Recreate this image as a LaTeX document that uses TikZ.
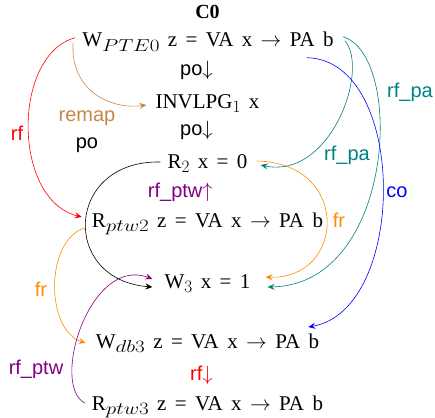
\documentclass[tikz,border=0pt]{standalone}
\usepackage{fontspec}
\usepackage{graphicx}
\setmainfont{Liberation Serif}
\setsansfont{Liberation Sans}
\usetikzlibrary{arrows.meta,calc}
\definecolor{remapc}{RGB}{200,135,70}
\definecolor{tealc}{RGB}{0,128,128}
\definecolor{orangec}{RGB}{255,140,0}
\definecolor{purplec}{RGB}{128,0,128}
\newcommand{\evfont}{\fontsize{21}{24}\selectfont\spaceskip=0.4em\relax}
\newcommand{\lblfont}{\sffamily\fontsize{20}{24}\selectfont}
\newcommand{\sbd}[1]{\raisebox{-4.5pt}{\fontsize{17}{17}\selectfont$#1$}}
\newcommand{\sbw}[1]{\raisebox{-4.5pt}{\scalebox{1.22}[1]{\fontsize{17}{17}\selectfont$#1$}}}
\begin{document}
\begin{tikzpicture}[x=1pt,y=-1pt,
  ev/.style={inner sep=0pt, anchor=base, font=\evfont},
  lbl/.style={inner sep=0pt, font=\lblfont},
  arr/.style={-{Stealth[length=7pt,width=6pt,inset=2.5pt]}, line width=0.6pt}]
\useasboundingbox (0,0) rectangle (435,417);
% events
\node[ev, font=\fontsize{20}{24}\selectfont\bfseries] (c0) at (207.5,18.5) {C0};
\node[ev] (wpte) at (208,46.7) {W\sbw{PTE0} z = VA x $\rightarrow$ PA b};
\node[ev] (inv) at (207.5,108) {INVLPG\sbd{1}\hspace{0.4em}x};
\node[ev] (r2) at (207.5,168) {R\sbd{2} x = 0};
\node[ev] (rptw2) at (207.5,227) {R\sbw{ptw2} z = VA x $\rightarrow$ PA b};
\node[ev] (w3) at (207.5,288) {W\sbd{3} x = 1};
\node[ev] (wdb3) at (207.5,348) {W\sbw{db3} z = VA x $\rightarrow$ PA b};
\node[ev] (rptw3) at (207.5,410) {R\sbw{ptw3} z = VA x $\rightarrow$ PA b};
% inline edge labels
\node[lbl, anchor=base east] (po1) at (213,75) {po$\downarrow$};
\node[lbl, anchor=base east] (po2) at (213,135.5) {po$\downarrow$};
\node[lbl, anchor=base east, text=purplec] (rfptw1) at (213,197) {rf\_ptw$\uparrow$};
\node[lbl, anchor=base east, text=red] (rf2) at (213,380) {rf$\downarrow$};
% curved edges
\draw[arr, red] ($(wpte.base west)+(-7,-9)$) .. controls (12,55) and (12,200) .. ($(rptw2.base west)+(-10,-10)$);
\node[lbl, text=red] (rfl) at (17,133) {rf};
\draw[arr, remapc] ($(wpte.base west)+(-9,-4)$) .. controls (70,90) and (110,110) .. ($(inv.base west)+(-9,-3)$);
\node[lbl, text=remapc] (remapl) at (87,118) {remap};
\draw[arr, black] ($(r2.base west)+(-7,-6)$) .. controls (65,160) and (60,280) .. ($(w3.base west)+(-12,-1)$);
\node[lbl] (pol) at (87,145) {po};
\draw[arr, orangec] ($(rptw2.base west)+(-7,1)$) .. controls (45,240) and (45,330) .. ($(wdb3.base west)+(-10,-5)$);
\node[lbl, text=orangec] (frl) at (41,289) {fr};
\draw[arr, purplec] ($(rptw3.base west)+(-7,-7)$) .. controls (50,385) and (90,255) .. ($(w3.base west)+(-12,-9)$);
\node[lbl, text=purplec] (rfptwl) at (36,369) {rf\_ptw};
\draw[arr, orangec] ($(r2.base east)+(9,-7)$) .. controls (352,163) and (345,280) .. ($(w3.base east)+(15,-11)$);
\node[lbl, text=orangec] (frr) at (339,220) {fr};
\draw[arr, tealc] ($(wpte.base east)+(11,-6)$) .. controls (370,70) and (330,180) .. ($(r2.base east)+(13,-3)$);
\node[lbl, text=tealc] (rfpa1) at (347,155) {rf\_pa};
\draw[arr, tealc] ($(wpte.base east)+(9,-10)$) .. controls (405,55) and (395,285) .. ($(w3.base east)+(17,-1)$);
\node[lbl, text=tealc] (rfpa2) at (410,92) {rf\_pa};
\draw[arr, blue] ($(wpte.base east)+(-27,11)$) .. controls (408,60) and (408,310) .. ($(wdb3.base east)+(-11,-21)$);
\node[lbl, text=blue] (col) at (397,192) {co};
\end{tikzpicture}
\end{document}
